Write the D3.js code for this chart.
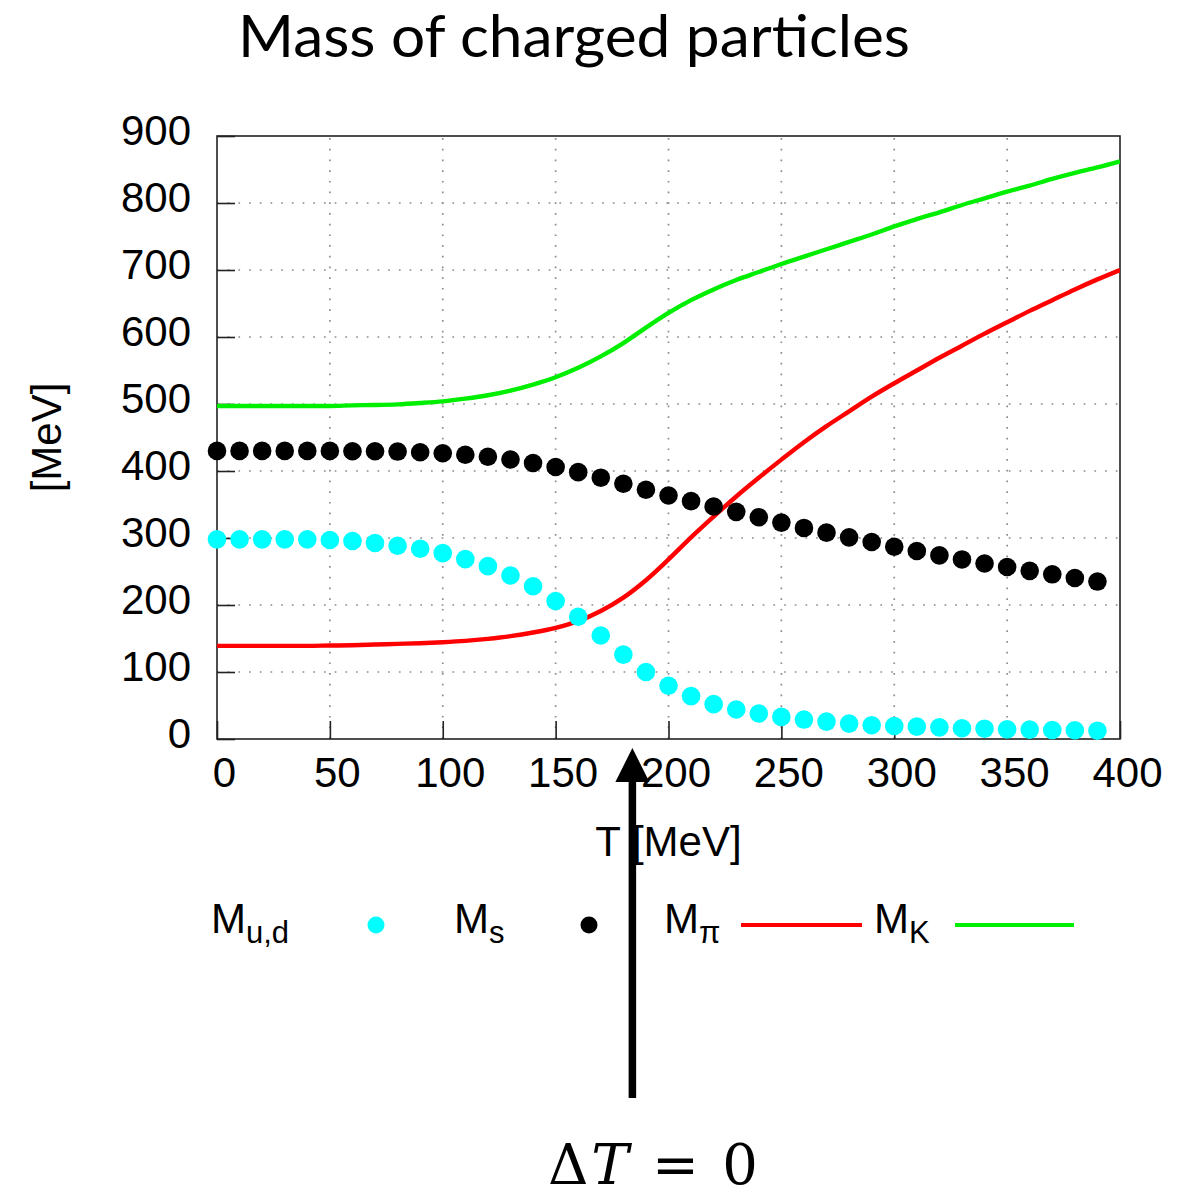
<!DOCTYPE html>
<html>
<head>
<meta charset="utf-8">
<script src="https://cdn.jsdelivr.net/npm/d3@7"></script>
<style>
  html, body { margin: 0; padding: 0; background: #fff; }
  svg { display: block; }
</style>
</head>
<body>
<svg id="chart" width="1190" height="1199"></svg>
<script>
// Temperatures (MeV) at which the quark masses are sampled (dots)
const dotTemps = [0,10,20,30,40,50,60,70,80,90,100,110,120,130,140,150,160,170,180,190,
                  200,210,220,230,240,250,260,270,280,290,300,310,320,330,340,350,360,370,380,390];
// Light quark mass M_u,d (MeV)
const massUD = [298,298,298,298,298,297,295.5,292.5,288.5,284,277.5,268.5,258,244,228,206,182.5,154.5,126,100,
                79.5,64,52,44,38,33,29,26,23,20.5,19.4,18.4,17.4,16,15.4,14.4,14,13.4,13,12.4];
// Strange quark mass M_s (MeV)
const massS = [430,430,430,430,430,430,429.5,429.5,429,428,426.5,424.2,421.2,417.2,412,406,398.3,390,381,372,
               363.5,355,347,339,331,323,315,308,301,294,287,280.6,274,268,262,256.7,251,245.8,240.3,235];

// Temperatures (MeV) for the meson mass curves
const lineTemps = [0,10,20,30,40,50,60,70,80,90,100,110,120,130,140,150,160,170,180,190,200,
                   210,220,230,240,250,260,270,280,290,300,310,320,330,340,350,360,370,380,390,400];
// Pion mass M_π (MeV)
const massPi = [139,139,139,139,139,139.5,140,141,142,143,144.5,146.5,149.5,153.5,159,166,176,191,211,237,268,
                301,332,362,390,417,443,467,489,511,531,550,569,587,605,622,639,655,671,686,700];
// Kaon mass M_K (MeV)
const massK = [497,497,497,497,497,497,498,498.5,499.5,501.5,504,508,513,520,529,540,554,571,591,614,636,
               655,671,685,697,709,720,731,742,753,765,776,786,797,807,817,826,836,845,853,862];

// Axis ticks
const xTicks = [0,50,100,150,200,250,300,350,400];
const yTicks = [0,100,200,300,400,500,600,700,800,900];

// Temperature marked by the arrow
const markerT = 184;

const svg = d3.select("#chart");
const W = 1190, H = 1199;
const plot = { left: 217, right: 1120, top: 136, bottom: 739 };

svg.append("rect").attr("width", W).attr("height", H).attr("fill", "#fff");

const x = d3.scaleLinear().domain([0, 400]).range([plot.left, plot.right]);
const y = d3.scaleLinear().domain([0, 900]).range([plot.bottom, plot.top]);

const tickFont = "'Liberation Sans', Arial, Helvetica, sans-serif";

// Title
svg.append("text")
  .attr("x", 238).attr("y", 57)
  .attr("font-family", "Lato, 'Open Sans', sans-serif")
  .attr("font-size", 58)
  .attr("textLength", 672)
  .attr("lengthAdjust", "spacingAndGlyphs")
  .attr("fill", "#000")
  .text("Mass of charged particles");

// Dotted grid
const grid = svg.append("g").attr("stroke", "#8c8c8c").attr("stroke-width", 1.7)
  .attr("stroke-dasharray", "1.7,9");
grid.selectAll("line.gx").data(xTicks.slice(1, -1)).join("line")
  .attr("x1", d => x(d)).attr("x2", d => x(d))
  .attr("y1", plot.bottom).attr("y2", plot.top);
grid.selectAll("line.gy").data(yTicks.slice(1, -1)).join("line")
  .attr("y1", d => y(d)).attr("y2", d => y(d))
  .attr("x1", plot.left).attr("x2", plot.right);

// Axes with inward ticks
const yAxis = d3.axisLeft(y).tickValues(yTicks).tickSize(-18).tickPadding(26);
const xAxis = d3.axisBottom(x).tickValues(xTicks).tickSize(-18).tickPadding(22);

const gy = svg.append("g").attr("transform", `translate(${plot.left},0)`).call(yAxis);
gy.select(".domain").remove();
gy.selectAll(".tick line").attr("stroke", "#222").attr("stroke-width", 1.6);
gy.selectAll(".tick text")
  .attr("font-family", tickFont).attr("font-size", 42).attr("fill", "#000")
  .attr("dy", "0.2em");

const gx = svg.append("g").attr("transform", `translate(0,${plot.bottom})`).call(xAxis);
gx.select(".domain").remove();
gx.selectAll(".tick line").attr("stroke", "#222").attr("stroke-width", 1.6);
gx.selectAll(".tick text")
  .attr("font-family", tickFont).attr("font-size", 42).attr("fill", "#000")
  .attr("dx", 7).attr("dy", "0.62em");

// Frame
svg.append("rect")
  .attr("x", plot.left).attr("y", plot.top)
  .attr("width", plot.right - plot.left).attr("height", plot.bottom - plot.top)
  .attr("fill", "none").attr("stroke", "#222").attr("stroke-width", 1.6);

// Axis titles
svg.append("text")
  .attr("x", x(200)).attr("y", 856)
  .attr("text-anchor", "middle")
  .attr("font-family", tickFont).attr("font-size", 42).attr("fill", "#000")
  .text("T [MeV]");
svg.append("text")
  .attr("transform", `translate(61,${(plot.top + plot.bottom) / 2}) rotate(-90)`)
  .attr("text-anchor", "middle")
  .attr("font-family", tickFont).attr("font-size", 42).attr("fill", "#000")
  .text("[MeV]");

// Clip for data
svg.append("clipPath").attr("id", "plotClip")
  .append("rect").attr("x", plot.left).attr("y", plot.top - 10)
  .attr("width", plot.right - plot.left).attr("height", plot.bottom - plot.top + 20);

const data = svg.append("g").attr("clip-path", "url(#plotClip)");

const line = d3.line().x(d => x(d[0])).y(d => y(d[1])).curve(d3.curveMonotoneX);

data.append("path")
  .datum(lineTemps.map((t, i) => [t, massPi[i]]))
  .attr("d", line).attr("fill", "none")
  .attr("stroke", "#ff0000").attr("stroke-width", 4.4);
data.append("path")
  .datum(lineTemps.map((t, i) => [t, massK[i]]))
  .attr("d", line).attr("fill", "none")
  .attr("stroke", "#00ee00").attr("stroke-width", 4.4);

const dotR = 9.3;
svg.append("g").selectAll("circle")
  .data(dotTemps.map((t, i) => [t, massS[i]])).join("circle")
  .attr("cx", d => x(d[0])).attr("cy", d => y(d[1])).attr("r", dotR)
  .attr("fill", "#000");
svg.append("g").selectAll("circle")
  .data(dotTemps.map((t, i) => [t, massUD[i]])).join("circle")
  .attr("cx", d => x(d[0])).attr("cy", d => y(d[1])).attr("r", dotR)
  .attr("fill", "#00ffff");

// Legend
const legendY = 933;
const legendItems = [
  { sub: "u,d", tx: 211, kind: "dot", color: "#00ffff", kx: 376 },
  { sub: "s",   tx: 454, kind: "dot", color: "#000000", kx: 589 },
  { sub: "π",   tx: 664, kind: "line", color: "#ff0000", kx: 741, kx2: 862 },
  { sub: "K",   tx: 874, kind: "line", color: "#00ee00", kx: 955, kx2: 1074 }
];
const legend = svg.append("g");
legendItems.forEach(it => {
  const t = legend.append("text")
    .attr("x", it.tx).attr("y", legendY)
    .attr("font-family", tickFont).attr("font-size", 42).attr("fill", "#000");
  t.append("tspan").text("M");
  t.append("tspan").attr("font-size", 31).attr("dy", 10).text(it.sub);
  if (it.kind === "dot") {
    legend.append("circle").attr("cx", it.kx).attr("cy", legendY - 8)
      .attr("r", 8.5).attr("fill", it.color);
  } else {
    legend.append("line").attr("x1", it.kx).attr("x2", it.kx2)
      .attr("y1", legendY - 8).attr("y2", legendY - 8)
      .attr("stroke", it.color).attr("stroke-width", 4);
  }
});

// Arrow marking ΔT = 0
const ax = x(markerT);
svg.append("line")
  .attr("x1", ax).attr("x2", ax).attr("y1", 1098).attr("y2", 778)
  .attr("stroke", "#000").attr("stroke-width", 7.5);
svg.append("path")
  .attr("d", d3.line()([[ax - 17, 782], [ax + 17, 782], [ax, 748]]) + "Z")
  .attr("fill", "#000");

const eq = svg.append("text")
  .attr("x", 548).attr("y", 1184)
  .attr("font-family", "'DejaVu Serif', 'Liberation Serif', serif")
  .attr("font-size", 56).attr("fill", "#000")
  .attr("textLength", 210).attr("lengthAdjust", "spacing");
eq.append("tspan").text("Δ");
eq.append("tspan").attr("font-style", "italic").text("T");
eq.append("tspan").text(" = 0");
</script>
</body>
</html>
